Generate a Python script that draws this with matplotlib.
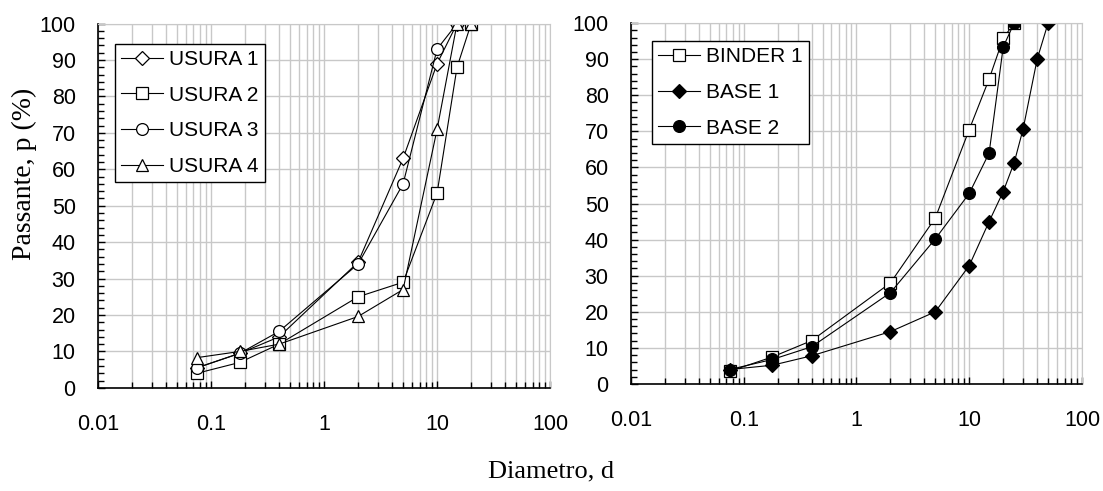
import matplotlib
matplotlib.use("Agg")
import matplotlib.pyplot as plt
from matplotlib.ticker import LogLocator, MultipleLocator, FixedLocator, FixedFormatter, NullFormatter

# sieve openings (mm)
sieves_usura = [0.075, 0.18, 0.4, 2, 5, 10, 15, 20]
sieves_base = [0.075, 0.18, 0.4, 2, 5, 10, 15, 20, 25, 30, 40, 50]

usura1 = [5.5, 9.5, 14, 34.5, 63, 89, 100, None]
usura2 = [4, 7, 12, 25, 29, 53.5, 88, 100]
usura3 = [5.5, 9.5, 15.5, 34, 56, 93, 100, None]
usura4 = [8.3, 10, 12, 19.6, 27, 71, 100, 100]

binder1 = [3.5, 7.5, 12, 28, 46, 70.5, 84.5, 95.8, 100, None, None, None]
base1 = [4, 5.2, 7.8, 14.5, 20, 32.8, 45, 53.3, 61.3, 70.6, 90, 100]
base2 = [4, 6.8, 10.3, 25.3, 40.2, 52.8, 64, 93.4, 100, None, None, None]

xtick_vals = [0.01, 0.1, 1, 10, 100]
xtick_labels = ["0.01", "0.1", "1", "10", "100"]

sans = ["Liberation Sans", "DejaVu Sans"]
serif = ["Liberation Serif", "DejaVu Serif"]
plt.rcParams["font.family"] = sans


def clean(xs, ys):
    pts = [(x, y) for x, y in zip(xs, ys) if y is not None]
    return [p[0] for p in pts], [p[1] for p in pts]


def setup(ax):
    ax.set_xscale("log")
    ax.set_xlim(0.01, 100)
    ax.set_ylim(0, 100)
    ax.xaxis.set_major_locator(FixedLocator(xtick_vals))
    ax.xaxis.set_major_formatter(FixedFormatter(xtick_labels))
    ax.xaxis.set_minor_locator(LogLocator(base=10, subs=range(2, 10)))
    ax.xaxis.set_minor_formatter(NullFormatter())
    ax.yaxis.set_major_locator(MultipleLocator(10))
    ax.yaxis.set_minor_locator(MultipleLocator(2))
    ax.grid(True, which="major", axis="both", color="#c8c8c8", lw=1)
    ax.grid(True, which="minor", axis="x", color="#c8c8c8", lw=1)
    ax.set_axisbelow(True)
    for s in ("top", "right"):
        ax.spines[s].set_color("#c8c8c8")
    for s in ("left", "bottom"):
        ax.spines[s].set_linewidth(1.2)
    ax.tick_params(which="both", direction="in", top=False, right=False,
                   labelsize=15.5, width=1)
    ax.tick_params(which="major", length=5)
    ax.tick_params(which="minor", length=4)
    ax.tick_params(axis="y", which="major", pad=16)
    ax.tick_params(axis="x", which="major", pad=19)


fig = plt.figure(figsize=(11.03, 4.91), dpi=100)
ax1 = fig.add_axes([0.0888, 0.210, 0.410, 0.742])
ax2 = fig.add_axes([0.572, 0.218, 0.409, 0.735])

common = dict(color="black", lw=0.8, ms=8.5, mew=0.9)
ax1.plot(*clean(sieves_usura, usura1), marker="D", ms=7.5, mfc="white",
         label="USURA 1", color="black", lw=0.8, mew=0.9)
ax1.plot(*clean(sieves_usura, usura2), marker="s", mfc="white", label="USURA 2", **common)
ax1.plot(*clean(sieves_usura, usura3), marker="o", mfc="white", label="USURA 3", **common)
ax1.plot(*clean(sieves_usura, usura4), marker="^", mfc="white", label="USURA 4", **common)

ax2.plot(*clean(sieves_base, binder1), marker="s", mfc="white", label="BINDER 1", **common)
ax2.plot(*clean(sieves_base, base1), marker="D", ms=7.5, mfc="black",
         label="BASE 1", color="black", lw=0.8, mew=0.9)
ax2.plot(*clean(sieves_base, base2), marker="o", mfc="black", label="BASE 2", **common)

for ax, loc in ((ax1, (0.038, 0.945)), (ax2, (0.047, 0.95))):
    setup(ax)
    leg = ax.legend(loc="upper left", bbox_to_anchor=loc, fontsize=15,
                    fancybox=False, framealpha=1, edgecolor="black",
                    handlelength=2.0, handletextpad=0.3, borderpad=0.3,
                    labelspacing=0.8, borderaxespad=0)
    leg.get_frame().set_linewidth(1)

fig.text(0.022, 0.645, "Passante, p (%)", family=serif, fontsize=20,
         rotation=90, ha="center", va="center")
fig.text(0.5, 0.028, "Diametro, d", family=serif, fontsize=19, ha="center")

fig.savefig("out.png", dpi=100)
